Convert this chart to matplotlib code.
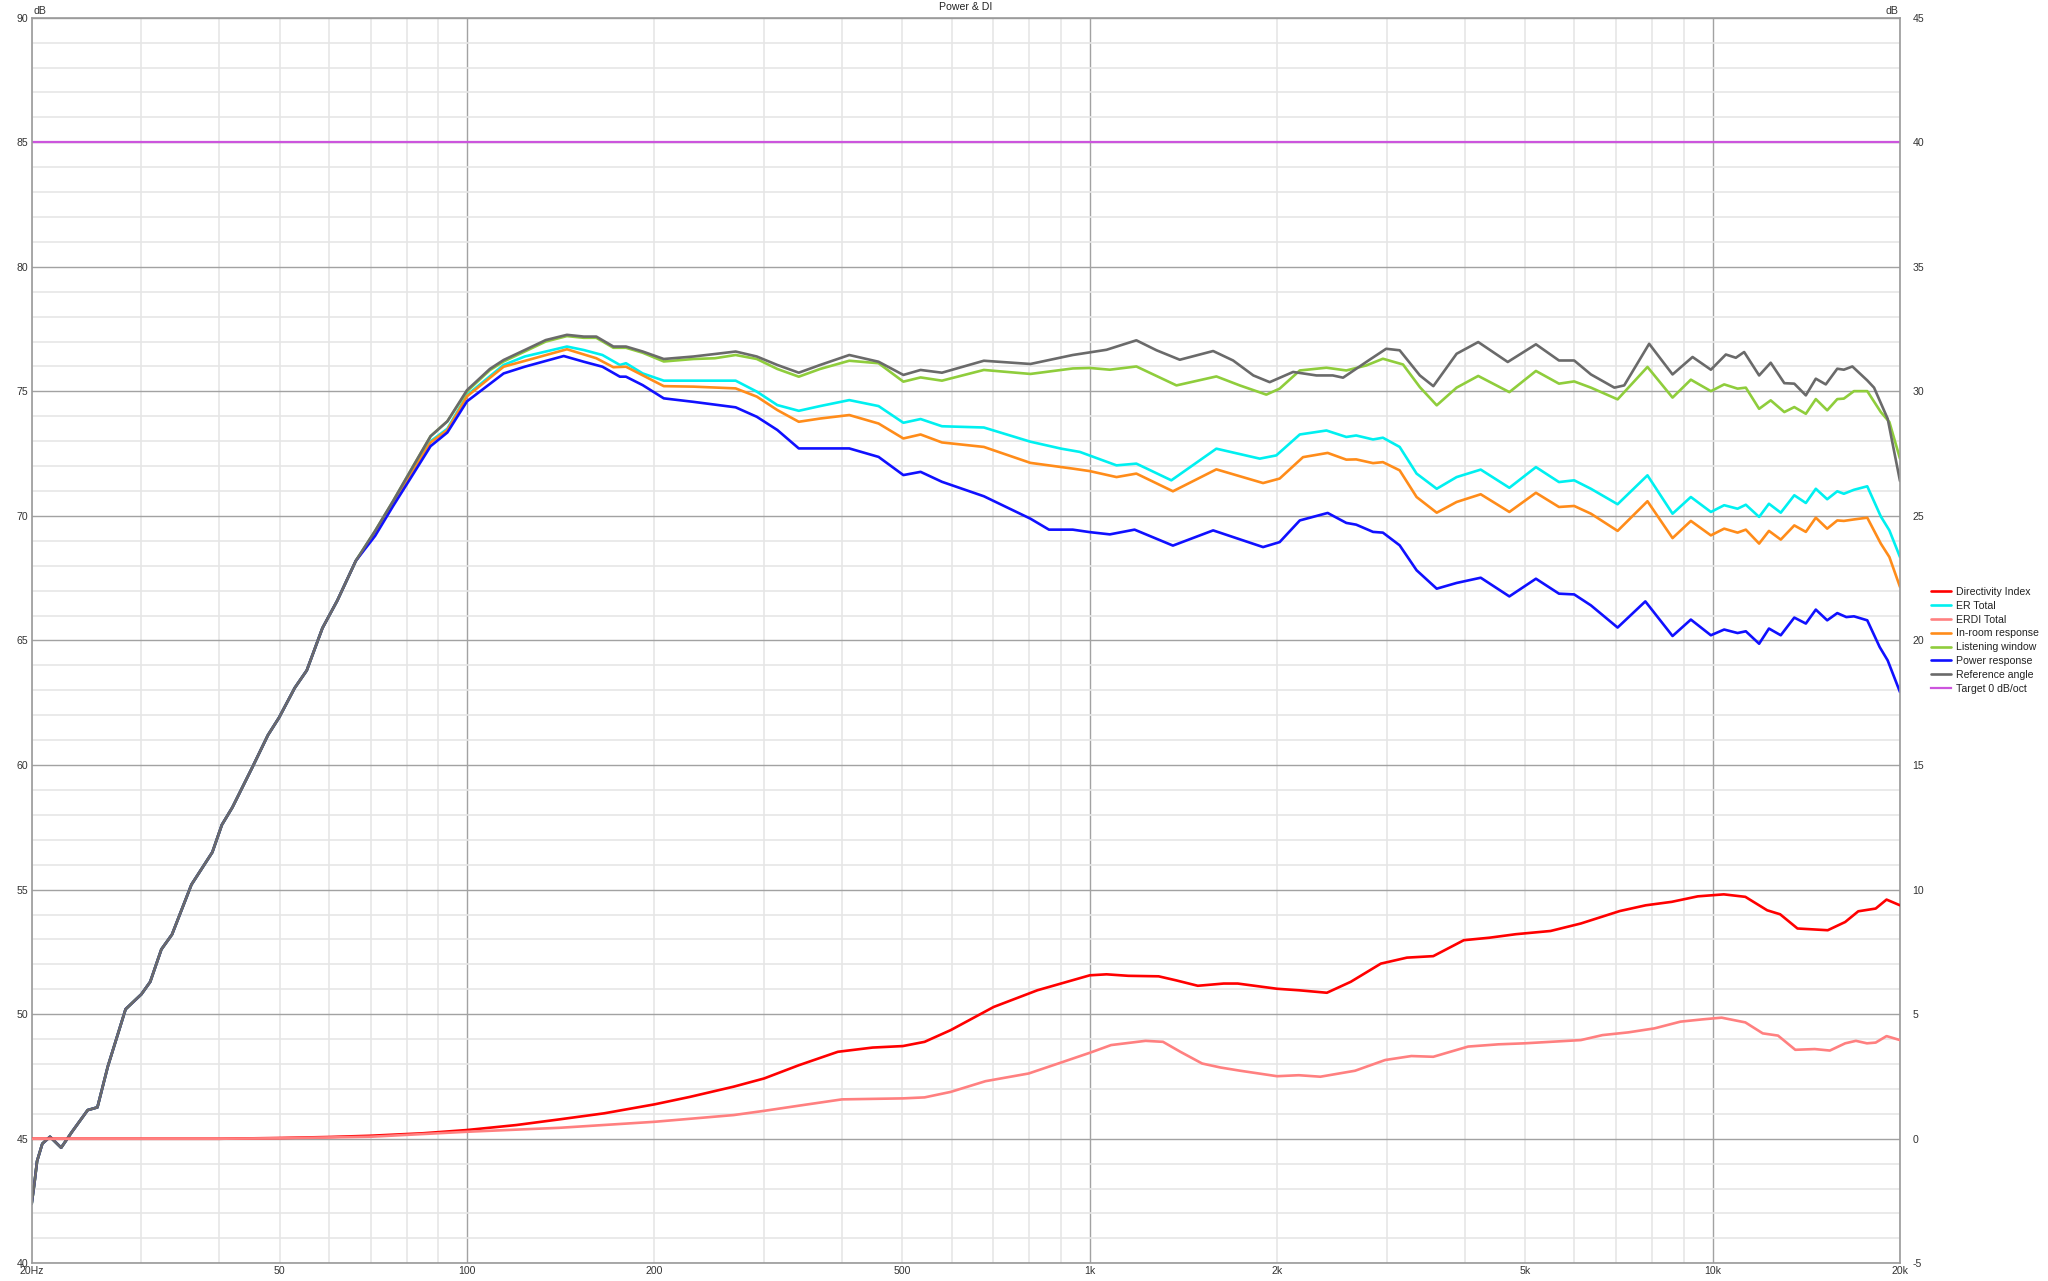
import numpy as np
import matplotlib
matplotlib.use('Agg')
import matplotlib.pyplot as plt
from matplotlib.ticker import FixedLocator, FuncFormatter, MultipleLocator

plt.rcParams['font.family'] = ['Liberation Sans', 'DejaVu Sans']

# ---------------- data ----------------
# shared low-frequency rise, where all five SPL curves coincide
rise_f = [20, 20.2, 20.4, 20.8, 21.4, 22.3, 23.2, 24.6, 25.5, 26.5, 28.3, 30, 31, 32.3, 33.6,
          36.1, 39, 40.4, 42, 45.2, 47.9, 49.9, 52.9, 55.3, 58.6, 61.9, 66.3]
rise_db = [42.4, 43.2, 44.1, 44.8, 45.08, 44.64, 45.27, 46.15, 46.26, 47.9, 50.2, 50.8, 51.3, 52.6, 53.2,
           55.2, 56.5, 57.6, 58.3, 59.9, 61.2, 61.9, 63.1, 63.8, 65.5, 66.6, 68.2]

ref_f = [71.2, 76.1, 81.1, 87.4, 93, 100, 108.8, 114.5, 123.8, 133.8, 144.7, 154, 161.3, 171.8, 180,
         191.5, 207, 231, 250, 270, 292, 315, 341, 369, 411, 458, 502, 535, 579, 676, 803, 939,
         1064, 1188, 1280, 1395, 1578, 1699, 1831, 1945, 2121, 2312, 2456, 2551, 2814, 2992, 3145,
         3389, 3562, 3882, 4205, 4690, 5205, 5668, 5996, 6379, 6956, 7214, 7911, 8626, 9288, 9939,
         10505, 10900, 11240, 11880, 12400, 13040, 13530, 14120, 14650, 15200, 15860, 16250, 16770,
         17720, 18170, 19110, 20000]
ref_db = [69.4, 70.6, 71.8, 73.2, 73.8, 75.05, 75.9, 76.26, 76.66, 77.06, 77.27, 77.2, 77.2, 76.8, 76.8,
          76.6, 76.3, 76.4, 76.5, 76.6, 76.4, 76.06, 75.75, 76.06, 76.46, 76.19, 75.66, 75.86, 75.75, 76.23, 76.1, 76.46,
          76.67, 77.05, 76.65, 76.27, 76.62, 76.24, 75.64, 75.37, 75.78, 75.64, 75.64, 75.55, 76.27, 76.71, 76.65,
          75.64, 75.21, 76.51, 76.98, 76.18, 76.89, 76.24, 76.24, 75.68, 75.15, 75.24, 76.91, 75.68, 76.38, 75.87,
          76.48, 76.35, 76.58, 75.64, 76.15, 75.33, 75.31, 74.84, 75.51, 75.28, 75.91, 75.87, 76.0,
          75.44, 75.15, 73.9, 71.4]

lw_f = [71.2, 76.1, 81.1, 87.4, 93, 100, 108.8, 114.5, 123.8, 133.8, 144.7, 154, 161.3, 171.8, 180,
        191.5, 207, 231, 250, 270, 292, 315, 341, 369, 411, 458, 502, 535, 579, 676, 803, 939, 1000,
        1077, 1188, 1378, 1597, 1741, 1921, 2018, 2174, 2399, 2582, 2779, 2956, 3184, 3389, 3607,
        3882, 4205, 4718, 5205, 5668, 5996, 6379, 7040, 7862, 8626, 9230, 9939, 10440, 10970, 11310,
        11880, 12400, 13040, 13530, 14120, 14650, 15280, 15860, 16250, 16870, 17720, 18630, 19230, 20000]
lw_db = [69.4, 70.6, 71.8, 73.2, 73.8, 75.0, 75.85, 76.2, 76.6, 77.0, 77.22, 77.15, 77.15, 76.75, 76.75,
         76.55, 76.2, 76.3, 76.33, 76.46, 76.3, 75.9, 75.59, 75.9, 76.23, 76.13, 75.39, 75.56, 75.43, 75.86, 75.7, 75.92, 75.94,
         75.87, 76.0, 75.24, 75.6, 75.24, 74.87, 75.11, 75.84, 75.95, 75.84, 76.04, 76.31, 76.08, 75.17, 74.44,
         75.15, 75.62, 74.97, 75.82, 75.31, 75.4, 75.15, 74.68, 75.98, 74.75, 75.47, 75.01, 75.28, 75.11, 75.15,
         74.3, 74.64, 74.17, 74.37, 74.1, 74.69, 74.24, 74.69, 74.71, 75.01, 75.01, 74.17, 73.77, 72.3]

er_f = [71.2, 76.1, 81.1, 87.4, 93, 100, 114.5, 123.8, 144.7, 154, 165, 176, 180, 191.5, 207, 231, 270,
        292, 315, 341, 369, 411, 458, 502, 535, 579, 676, 803, 900, 964, 1104, 1188, 1352, 1597, 1875,
        1993, 2174, 2399, 2582, 2678, 2850, 2956, 3145, 3348, 3607, 3882, 4244, 4718, 5205, 5668, 5996,
        6379, 7040, 7862, 8626, 9230, 9939, 10440, 10970, 11310, 11880, 12320, 12870, 13530, 14120,
        14650, 15280, 15860, 16250, 16870, 17720, 18630, 19230, 20000]
er_db = [69.35, 70.55, 71.7, 73.0, 73.5, 74.85, 76.06, 76.4, 76.8, 76.66, 76.46, 76.06, 76.13, 75.72, 75.43, 75.43, 75.43,
         74.99, 74.45, 74.22, 74.41, 74.65, 74.41, 73.74, 73.89, 73.6, 73.55, 72.98, 72.7, 72.57, 72.03, 72.1, 71.43, 72.7, 72.3,
         72.43, 73.27, 73.43, 73.17, 73.23, 73.07, 73.14, 72.77, 71.7, 71.09, 71.56, 71.86, 71.13, 71.96, 71.36, 71.43,
         71.09, 70.47, 71.63, 70.09, 70.76, 70.16, 70.43, 70.29, 70.45, 69.96, 70.49, 70.13, 70.83, 70.52,
         71.09, 70.67, 70.99, 70.89, 71.05, 71.19, 69.98, 69.42, 68.35]

pir_f = [71.2, 76.1, 81.1, 87.4, 93, 100, 114.5, 144.7, 161.3, 171.8, 180, 207, 231, 270, 292, 315, 341,
         369, 411, 458, 502, 535, 579, 676, 803, 939, 1000, 1104, 1188, 1360, 1597, 1898, 2018, 2200, 2410,
         2582, 2678, 2850, 2956, 3145, 3348, 3607, 3882, 4244, 4718, 5205, 5668, 5996, 6379, 7040, 7862,
         8626, 9230, 9939, 10440, 10970, 11310, 11880, 12320, 12870, 13530, 14120, 14650, 15280, 15860,
         16250, 16870, 17720, 18630, 19230, 20000]
pir_db = [69.3, 70.5, 71.65, 72.95, 73.45, 74.8, 75.99, 76.69, 76.33, 75.97, 75.99, 75.21, 75.19, 75.12, 74.79, 74.25, 73.78,
          73.91, 74.05, 73.71, 73.11, 73.27, 72.95, 72.77, 72.13, 71.9, 71.8, 71.56, 71.7, 70.99, 71.87, 71.32, 71.5, 72.36, 72.53,
          72.26, 72.27, 72.12, 72.16, 71.83, 70.76, 70.13, 70.56, 70.87, 70.16, 70.93, 70.36, 70.4, 70.09, 69.4, 70.59,
          69.11, 69.8, 69.22, 69.49, 69.33, 69.45, 68.89, 69.4, 69.05, 69.62, 69.36, 69.93, 69.49, 69.82,
          69.8, 69.86, 69.93, 68.89, 68.35, 67.15]

pw_f = [71.2, 76.1, 81.1, 87.4, 93, 100, 114.5, 123.8, 143, 154, 165, 176, 180, 191.5, 207, 231, 270, 292,
        315, 341, 369, 411, 458, 502, 535, 579, 676, 803, 860, 939, 1000, 1077, 1180, 1360, 1578, 1898,
        2018, 2174, 2410, 2582, 2678, 2850, 2956, 3145, 3348, 3607, 3882, 4244, 4718, 5205, 5668, 5996,
        6379, 7040, 7800, 8626, 9230, 9939, 10440, 10970, 11310, 11880, 12320, 12870, 13530, 14120,
        14650, 15280, 15860, 16400, 16870, 17720, 18550, 19110, 20000]
pw_db = [69.2, 70.4, 71.5, 72.8, 73.35, 74.6, 75.72, 75.99, 76.42, 76.19, 75.99, 75.59, 75.59, 75.25, 74.72, 74.58, 74.36, 73.98,
         73.45, 72.71, 72.71, 72.71, 72.37, 71.64, 71.77, 71.37, 70.79, 69.89, 69.45, 69.45, 69.35, 69.26, 69.45, 68.81, 69.42, 68.75,
         68.95, 69.82, 70.12, 69.72, 69.65, 69.36, 69.33, 68.82, 67.82, 67.08, 67.31, 67.52, 66.77, 67.48, 66.88, 66.85,
         66.41, 65.52, 66.57, 65.18, 65.84, 65.21, 65.44, 65.3, 65.37, 64.87, 65.48, 65.21, 65.92, 65.68,
         66.24, 65.81, 66.1, 65.94, 65.97, 65.81, 64.74, 64.2, 62.93]

# Directivity indices (right axis, dB)
di_f = [20, 40, 50, 60, 70, 85, 100, 120, 141, 166, 200, 228, 268, 300, 341, 394, 448, 501, 543, 598,
        701, 824, 1000, 1064, 1153, 1290, 1375, 1491, 1641, 1728, 1999, 2166, 2403, 2625, 2934, 3231,
        3561, 3987, 4385, 4830, 5495, 6145, 7097, 7810, 8601, 9470, 10425, 11290, 12240, 12840, 13690,
        14590, 15310, 16330, 17140, 18280, 19030, 20000]
di_db = [0.0, 0.0, 0.03, 0.07, 0.12, 0.22, 0.35, 0.55, 0.78, 1.02, 1.38, 1.68, 2.09, 2.42, 2.95, 3.49, 3.66, 3.72, 3.89, 4.36,
         5.29, 5.96, 6.56, 6.6, 6.54, 6.52, 6.36, 6.14, 6.23, 6.23, 6.02, 5.96, 5.86, 6.3, 7.03, 7.27,
         7.33, 7.97, 8.07, 8.21, 8.34, 8.64, 9.14, 9.37, 9.51, 9.73, 9.81, 9.71, 9.17, 9.01, 8.44,
         8.4, 8.37, 8.7, 9.13, 9.24, 9.6, 9.37]

erdi_f = [20, 40, 50, 70, 100, 141, 200, 268, 300, 346, 400, 501, 543, 598, 680, 798, 907, 1000, 1082,
          1229, 1311, 1398, 1515, 1621, 1744, 1999, 2166, 2346, 2667, 2981, 3284, 3561, 4051, 4531, 4989,
          5581, 6145, 6657, 7325, 8067, 8881, 9622, 10342, 11290, 12040, 12740, 13580, 14590, 15430,
          16330, 16990, 17700, 18280, 19030, 20000]
erdi_db = [0.0, 0.0, 0.02, 0.08, 0.28, 0.44, 0.68, 0.95, 1.12, 1.35, 1.58, 1.62, 1.66, 1.88, 2.31, 2.62, 3.09, 3.45, 3.76,
           3.93, 3.89, 3.49, 3.02, 2.86, 2.73, 2.51, 2.55, 2.49, 2.73, 3.16, 3.32, 3.29, 3.7, 3.79, 3.83,
           3.9, 3.96, 4.16, 4.27, 4.43, 4.7, 4.79, 4.86, 4.67, 4.23, 4.14, 3.57, 3.6, 3.54,
           3.83, 3.93, 3.83, 3.86, 4.12, 3.96]

target_f = [20, 20000]
target_db = [85, 85]

x_labels = {20: '20Hz', 50: '50', 100: '100', 200: '200', 500: '500', 1000: '1k',
            2000: '2k', 5000: '5k', 10000: '10k', 20000: '20k'}

# ---------------- figure ----------------
TXT = '#333333'
FS = 7.6
fig = plt.figure(figsize=(20.48, 12.81), dpi=100)
W, H = 2048, 1281
L, R, T, B = 31.7, 1900, 17.7, 1263.3
ax = fig.add_axes([L / W, 1 - B / H, (R - L) / W, (B - T) / H])
ax.set_xscale('log')
ax.set_xlim(20, 20000)
ax.set_ylim(40, 90)

major_x = [100, 1000, 10000]
minor_x = [m * 10 ** k for k in range(1, 5) for m in range(2, 10) if 20 <= m * 10 ** k <= 20000]
ax.xaxis.set_major_locator(FixedLocator(major_x))
ax.xaxis.set_minor_locator(FixedLocator(minor_x))
fmt = FuncFormatter(lambda v, p: x_labels.get(int(round(v)), ''))
ax.xaxis.set_major_formatter(fmt)
ax.xaxis.set_minor_formatter(fmt)
ax.yaxis.set_major_locator(MultipleLocator(5))
ax.yaxis.set_minor_locator(MultipleLocator(1))
ax.yaxis.set_major_formatter(FuncFormatter(lambda v, p: f'{v:.0f}'))

ax.grid(which='major', color='#a2a2a2', lw=1.0)
ax.grid(which='minor', color='#e6e6e6', lw=1.2)
ax.set_axisbelow(True)
ax.tick_params(which='both', length=0, labelsize=FS, labelcolor=TXT)
ax.tick_params(axis='x', which='both', pad=2)
ax.tick_params(axis='y', which='both', pad=2.5)
for s in ax.spines.values():
    s.set_color('#9a9a9a')
    s.set_linewidth(1.2)

ax2 = ax.twinx()
ax2.set_ylim(-5, 45)
ax2.yaxis.set_major_locator(MultipleLocator(5))
ax2.yaxis.set_major_formatter(FuncFormatter(lambda v, p: f'{v:.0f}'))
ax2.tick_params(length=0, labelsize=FS, labelcolor=TXT, pad=9)
for s in ax2.spines.values():
    s.set_visible(False)

LW = 1.9
h_di, = ax2.plot(di_f, di_db, color='#ff0000', lw=LW, label='Directivity Index')
h_er, = ax.plot(rise_f + er_f, rise_db + er_db, color='#00f0f0', lw=LW, label='ER Total')
h_erdi, = ax2.plot(erdi_f, erdi_db, color='#ff8080', lw=LW, label='ERDI Total')
h_pir, = ax.plot(rise_f + pir_f, rise_db + pir_db, color='#ff8c1a', lw=LW, label='In-room response')
h_lw, = ax.plot(rise_f + lw_f, rise_db + lw_db, color='#8fcd3c', lw=LW, label='Listening window')
h_pw, = ax.plot(rise_f + pw_f, rise_db + pw_db, color='#1010ff', lw=LW, label='Power response')
h_ref, = ax.plot(rise_f + ref_f, rise_db + ref_db, color='#6a6a6a', lw=LW, label='Reference angle')
h_tg, = ax.plot(target_f, target_db, color='#cc55dd', lw=1.6, label='Target 0 dB/oct')
for h in (h_er, h_pir, h_lw, h_pw, h_ref, h_di, h_erdi):
    h.set_solid_joinstyle('round')
    h.set_solid_capstyle('round')

handles = [h_di, h_er, h_erdi, h_pir, h_lw, h_pw, h_ref, h_tg]
leg = fig.legend(handles, [h.get_label() for h in handles], loc='upper left',
                 bbox_to_anchor=(1931 / W, 1 - 587 / H), frameon=False, fontsize=FS,
                 handlelength=1.9, handletextpad=0.45, labelspacing=0.36,
                 borderpad=0, borderaxespad=0)
for t in leg.get_texts():
    t.set_color('#222222')

fig.text(33 / W, 1 - 11 / H, 'dB', ha='left', va='center', fontsize=FS, color=TXT)
fig.text(1898 / W, 1 - 11 / H, 'dB', ha='right', va='center', fontsize=FS, color=TXT)
fig.text((L + R) / 2 / W, 1 - 7.5 / H, 'Power & DI', ha='center', va='center', fontsize=FS, color='#222222')

fig.savefig('out.png', dpi=100, facecolor='white')
